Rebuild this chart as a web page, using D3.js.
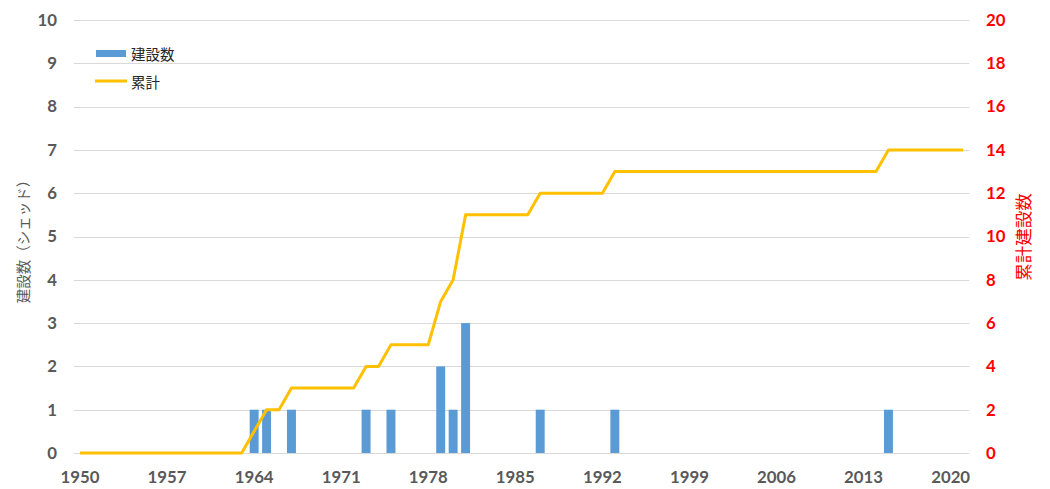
<!DOCTYPE html>
<html>
<head>
<meta charset="utf-8">
<script src="https://cdn.jsdelivr.net/npm/d3@7"></script>
<style>
  html, body { margin: 0; padding: 0; background: #fff; }
  svg { display: block; }
</style>
</head>
<body>
<svg id="chart" width="1050" height="489"></svg>
<script>
// ---- data ----
const years = d3.range(1950, 2022); // categories 1950..2021
const builds = [
  0,0,0,0,0,0,0,0,0,0,   // 1950s
  0,0,0,0,1,1,0,1,0,0,   // 1960s
  0,0,0,1,0,1,0,0,0,2,   // 1970s
  1,3,0,0,0,0,0,1,0,0,   // 1980s
  0,0,0,1,0,0,0,0,0,0,   // 1990s
  0,0,0,0,0,0,0,0,0,0,   // 2000s
  0,0,0,0,0,1,0,0,0,0,   // 2010s
  0,0                    // 2020s
];
const cumulative = [
  0,0,0,0,0,0,0,0,0,0,
  0,0,0,0,1,2,2,3,3,3,
  3,3,3,4,4,5,5,5,5,7,
  8,11,11,11,11,11,11,12,12,12,
  12,12,12,13,13,13,13,13,13,13,
  13,13,13,13,13,13,13,13,13,13,
  13,13,13,13,13,14,14,14,14,14,
  14,14
];
const xTickYears = [1950,1957,1964,1971,1978,1985,1992,1999,2006,2013,2020];
const leftTicks = [0,1,2,3,4,5,6,7,8,9,10];
const rightTicks = [0,2,4,6,8,10,12,14,16,18,20];
const seriesNames = ["建設数", "累計"];
const leftTitle = "建設数（シェッド）";
const rightTitle = "累計建設数";

// ---- layout ----
const svg = d3.select("#chart");
const plot = { left: 73.8, right: 969.3, top: 20, bottom: 453 };
const numFont = "Lato, 'Open Sans', sans-serif";
const cjkFont = "'Noto Sans CJK JP', sans-serif";
const numSize = 16.8;

const x = d3.scaleBand().domain(years).range([plot.left, plot.right]).padding(0);
const yL = d3.scaleLinear().domain([0, 10]).range([plot.bottom, plot.top]);
const yR = d3.scaleLinear().domain([0, 20]).range([plot.bottom, plot.top]);
const barW = x.bandwidth() * 0.72;
const cx = d => x(d) + x.bandwidth() / 2;

// gridlines
svg.append("g").selectAll("line").data(leftTicks).join("line")
  .attr("x1", plot.left).attr("x2", plot.right)
  .attr("y1", d => Math.round(yL(d)) + 0.5).attr("y2", d => Math.round(yL(d)) + 0.5)
  .attr("stroke", "#d9d9d9").attr("stroke-width", 1);

// left axis
const gL = svg.append("g").attr("transform", `translate(${57},0)`)
  .call(d3.axisLeft(yL).tickValues(leftTicks).tickSize(0).tickPadding(0));
gL.select(".domain").remove();
gL.selectAll("text").attr("font-family", numFont).attr("font-weight", "bold")
  .attr("font-size", numSize).attr("fill", "#595959");

// right axis
const gR = svg.append("g").attr("transform", `translate(${986},0)`)
  .call(d3.axisRight(yR).tickValues(rightTicks).tickSize(0).tickPadding(0));
gR.select(".domain").remove();
gR.selectAll("text").attr("font-family", numFont).attr("font-weight", "bold")
  .attr("font-size", numSize).attr("fill", "#ff0000");

// bottom axis
const gB = svg.append("g").attr("transform", `translate(0,${plot.bottom})`)
  .call(d3.axisBottom(x).tickValues(xTickYears).tickSize(0).tickPadding(18));
gB.select(".domain").remove();
gB.selectAll("text").attr("font-family", numFont).attr("font-weight", "bold")
  .attr("font-size", numSize).attr("fill", "#595959");

// bars
svg.append("g").selectAll("rect").data(years.map((yr, i) => ({ yr, v: builds[i] })).filter(d => d.v > 0))
  .join("rect")
  .attr("x", d => cx(d.yr) - barW / 2)
  .attr("width", barW)
  .attr("y", d => yL(d.v))
  .attr("height", d => yL(0) - yL(d.v))
  .attr("fill", "#5b9bd5");

// cumulative line
const line = d3.line().x(d => cx(d.yr)).y(d => yR(d.v));
svg.append("path")
  .datum(years.map((yr, i) => ({ yr, v: cumulative[i] })))
  .attr("d", line)
  .attr("fill", "none").attr("stroke", "#ffc000").attr("stroke-width", 3)
  .attr("stroke-linejoin", "round");

// axis titles
svg.append("text")
  .attr("transform", `translate(22,238) rotate(-90)`)
  .attr("text-anchor", "middle").attr("dominant-baseline", "central")
  .attr("font-family", cjkFont).attr("font-size", 14.5).attr("fill", "#595959")
  .text(leftTitle);
svg.append("text")
  .attr("transform", `translate(1022,237) rotate(-90)`)
  .attr("text-anchor", "middle").attr("dominant-baseline", "central")
  .attr("font-family", cjkFont).attr("font-size", 17.5).attr("fill", "#ff0000")
  .text(rightTitle);

// legend
const lg = svg.append("g");
lg.append("rect").attr("x", 96).attr("y", 50).attr("width", 30).attr("height", 7).attr("fill", "#5b9bd5");
lg.append("line").attr("x1", 95).attr("x2", 127).attr("y1", 81).attr("y2", 81)
  .attr("stroke", "#ffc000").attr("stroke-width", 3);
lg.selectAll("text").data(seriesNames).join("text")
  .attr("x", 131).attr("y", (d, i) => i === 0 ? 53.5 : 81)
  .attr("dominant-baseline", "central")
  .attr("font-family", cjkFont).attr("font-size", 14.5).attr("fill", "#262626")
  .text(d => d);
</script>
</body>
</html>
